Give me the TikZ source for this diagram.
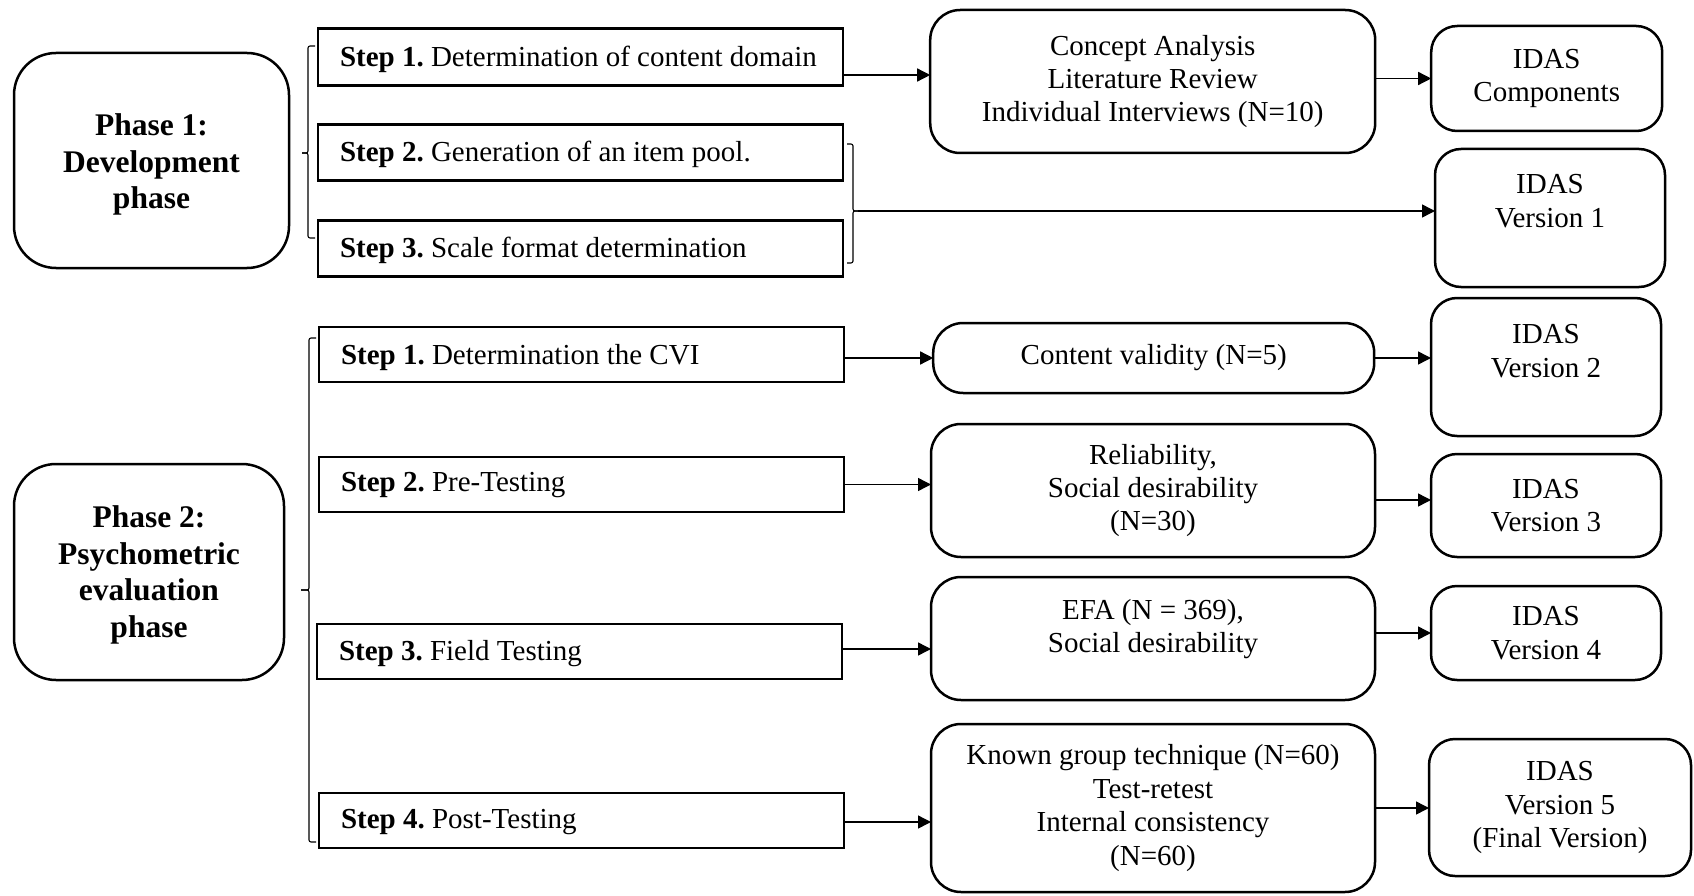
\documentclass[tikz,border=0pt]{standalone}
\usepackage{fontspec}
\setmainfont{Liberation Serif}
\usetikzlibrary{arrows.meta}
\frenchspacing
\begin{document}
\begin{tikzpicture}[x=1pt,y=-1pt,
  every node/.style={inner sep=0pt, outer sep=0pt},
  txt/.style={font=\fontsize{29}{33.4}\selectfont, align=center},
  stepbox/.style={draw, line width=2.9pt, rectangle, minimum width=525pt},
  steptext/.style={font=\fontsize{29}{33.4}\selectfont, anchor=west},
  phasebox/.style={draw, line width=2.5pt, rounded corners=42pt},
  phasetext/.style={align=center, font=\fontsize{31.5}{36.5}\selectfont\bfseries},
  midbox/.style={draw, line width=2.5pt, rounded corners=30pt, txt},
  idasbox/.style={draw, line width=2.5pt, rounded corners=26pt, txt},
  arr/.style={line width=1.4pt, -{Triangle[length=13pt,width=13pt]}},
  brace/.style={line width=1.1pt, rounded corners=2pt}
]
\useasboundingbox (0,0) rectangle (1694,896);

% Phase boxes
\node[phasebox, minimum width=275pt, minimum height=215pt] (ph1) at (151.5,160.5) {};
\node[phasetext] (ph1t) at (151.5,164.5) {Phase 1:\\Development\\phase};
\node[phasebox, minimum width=270pt, minimum height=216pt] (ph2) at (149,572) {};
\node[phasetext] (ph2t) at (149,575) {Phase 2:\\Psychometric\\evaluation\\phase};

% Step boxes phase 1
\node[stepbox, minimum height=57pt] (p1s1) at (580.5,57) {};
\node[steptext] (p1s1t) at ([xshift=22pt,yshift=-2pt]p1s1.west) {\textbf{Step 1.} Determination of content domain};
\node[stepbox, minimum height=56pt] (p1s2) at (580.5,152.5) {};
\node[steptext] (p1s2t) at ([xshift=22pt,yshift=-2pt]p1s2.west) {\textbf{Step 2.} Generation of an item pool.};
\node[stepbox, minimum height=56pt] (p1s3) at (580.5,248.5) {};
\node[steptext] (p1s3t) at ([xshift=22pt,yshift=-2pt]p1s3.west) {\textbf{Step 3.} Scale format determination};

% Step boxes phase 2
\node[stepbox, minimum height=55pt] (p2s1) at (581.5,354.5) {};
\node[steptext] (p2s1t) at ([xshift=22pt,yshift=-3pt]p2s1.west) {\textbf{Step 1.} Determination the CVI};
\node[stepbox, minimum height=55pt] (p2s2) at (581.5,484.5) {};
\node[steptext] (p2s2t) at ([xshift=22pt,yshift=-1pt]p2s2.west) {\textbf{Step 2.} Pre-Testing};
\node[stepbox, minimum height=55pt] (p2s3) at (579.5,651.5) {};
\node[steptext] (p2s3t) at ([xshift=22pt,yshift=-2pt]p2s3.west) {\textbf{Step 3.} Field Testing};
\node[stepbox, minimum height=55pt] (p2s4) at (581.5,820.5) {};
\node[steptext] (p2s4t) at ([xshift=22pt,yshift=-2pt]p2s4.west) {\textbf{Step 4.} Post-Testing};

% Middle boxes
\node[midbox, minimum width=445pt, minimum height=143pt] (concept) at (1152.7,81.5) {Concept Analysis\\Literature Review\\Individual Interviews (N=10)};
\node[midbox, minimum width=441pt, minimum height=70pt] (content) at (1153.7,358) {Content validity (N=5)};
\node[midbox, minimum width=444pt, minimum height=133pt] (rel) at (1153,490.5) {Reliability,\\Social desirability\\(N=30)};
\node[midbox, minimum width=444pt, minimum height=123pt] (efa) at (1153,638.5) {};
\node[txt] (efat) at (1153,629) {EFA (N = 369),\\Social desirability};
\node[midbox, minimum width=444pt, minimum height=168pt] (known) at (1153,808) {Known group technique (N=60)\\Test-retest\\Internal consistency\\(N=60)};

% IDAS boxes
\node[idasbox, minimum width=231pt, minimum height=105pt] (comp) at (1546.7,78.5) {IDAS\\Components};
\node[idasbox, minimum width=230pt, minimum height=138pt] (v1) at (1550,218) {};
\node[txt] (v1t) at (1550,201) {IDAS\\Version 1};
\node[idasbox, minimum width=230pt, minimum height=138pt] (v2) at (1546,367) {};
\node[txt] (v2t) at (1546,351) {IDAS\\Version 2};
\node[idasbox, minimum width=230pt, minimum height=103pt] (v3) at (1546,505.5) {IDAS\\Version 3};
\node[idasbox, minimum width=230pt, minimum height=94pt] (v4) at (1546,633) {IDAS\\Version 4};
\node[idasbox, minimum width=262pt, minimum height=137pt] (v5) at (1560,807.5) {IDAS\\Version 5\\(Final Version)};

% Braces
\draw[brace] (315,46) -- (308,46) -- (308,153) -- (302,153);
\draw[brace] (302,153) -- (308,153) -- (308,238) -- (315,238);
\draw[brace] (316,338) -- (309,338) -- (309,590) -- (301,590);
\draw[brace] (301,590) -- (309,590) -- (309,842) -- (316,842);
\draw[brace] (847,144) -- (853,144) -- (853,211) -- (858,211);
\draw[brace] (858,211) -- (853,211) -- (853,263) -- (847,263);
\coordinate (b1) at (858,211);

% Arrows
\coordinate (a1) at ([yshift=-18pt]p1s1.east);
\draw[arr] (a1) -- (a1 -| concept.west);
\draw[arr] (comp.west -| concept.east) -- (comp.west);
\draw[arr] (b1) -- (b1 -| v1.west);
\draw[arr] (p2s1.east |- content.west) -- (content.west);
\draw[arr] (content.east) -- (content.east -| v2.west);
\draw[arr] (p2s2.east) -- (p2s2.east -| rel.west);
\coordinate (a3) at ([yshift=-9.5pt]rel.east);
\draw[arr] (a3) -- (a3 -| v3.west);
\coordinate (a4) at ([yshift=2.5pt]p2s3.east);
\draw[arr] (a4) -- (a4 -| efa.west);
\draw[arr] (v4.west -| efa.east) -- (v4.west);
\draw[arr] (p2s4.east |- 0,822) -- (known.west |- 0,822);
\draw[arr] (known.east) -- (known.east -| v5.west);
\end{tikzpicture}
\end{document}
